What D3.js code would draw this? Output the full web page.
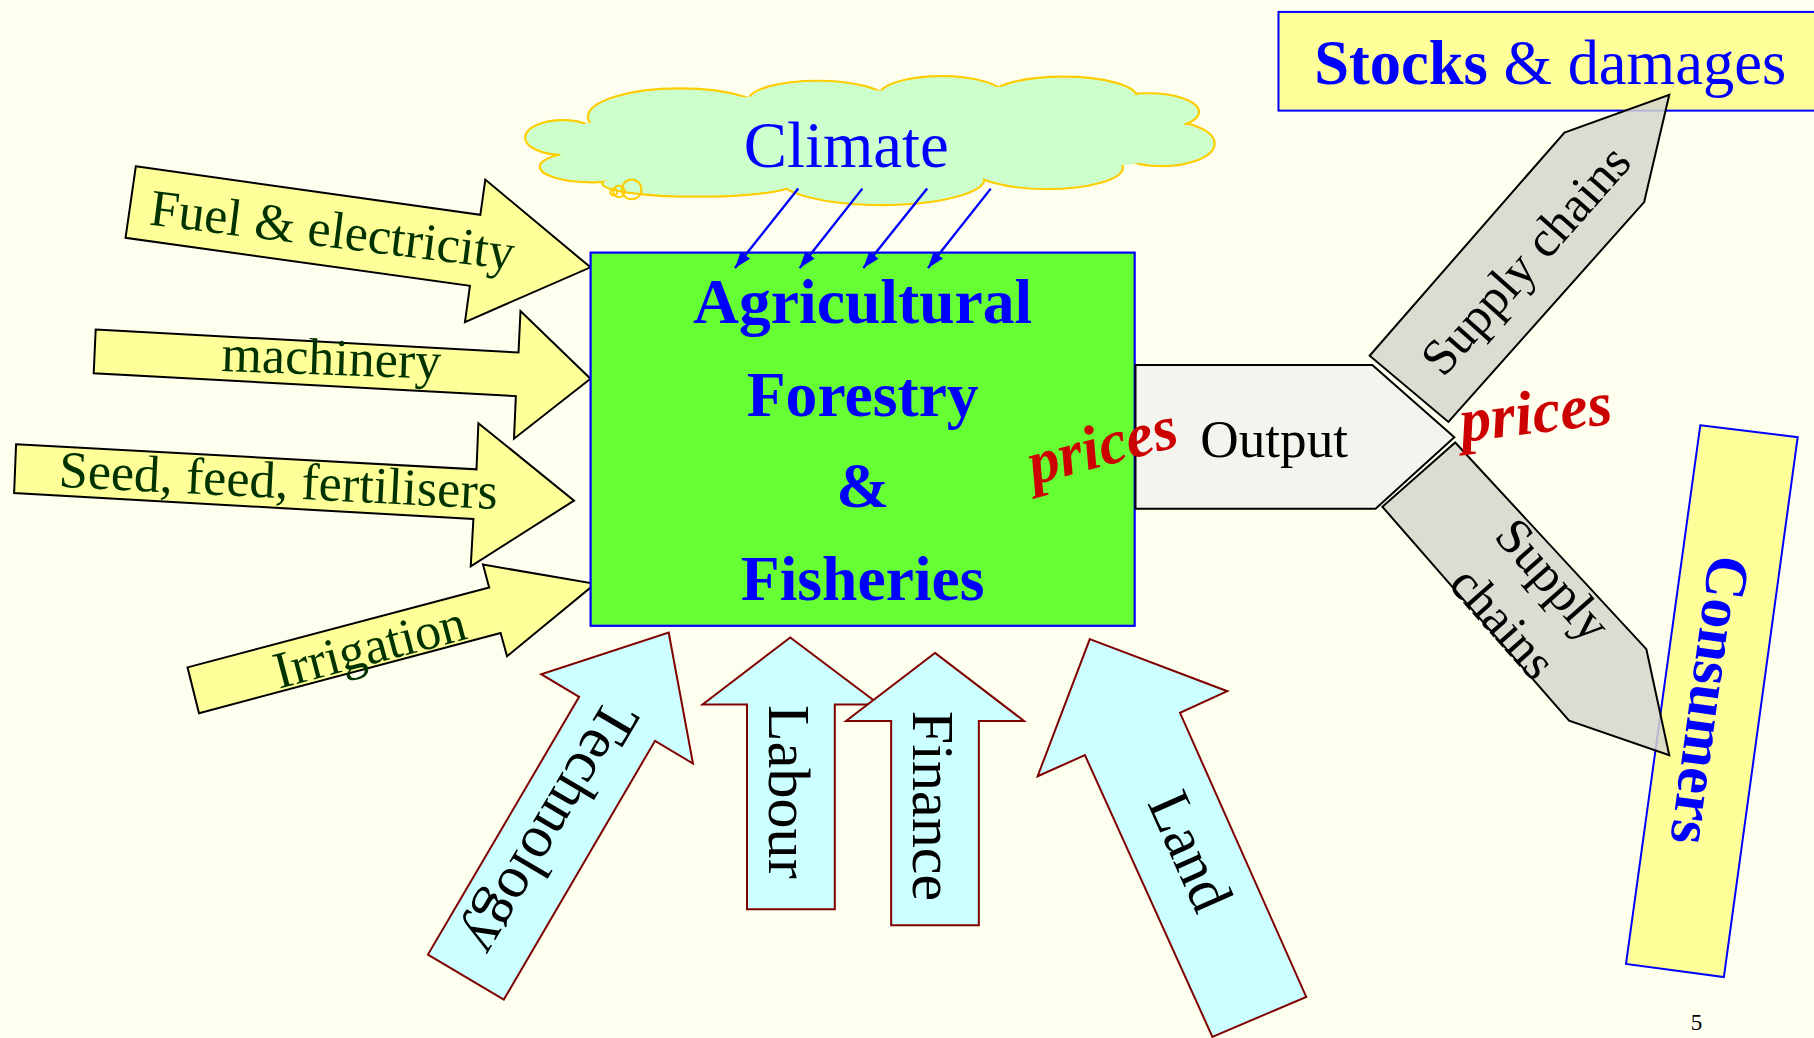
<!DOCTYPE html>
<html>
<head>
<meta charset="utf-8">
<script src="https://cdn.jsdelivr.net/npm/d3@7"></script>
<style>
  html, body { margin: 0; padding: 0; background: #FFFFF0; overflow: hidden; }
  svg { display: block; font-family: "Liberation Serif", "Times New Roman", serif; }
</style>
</head>
<body>
<div id="chart"></div>
<script>
// labels (text only)
const inputLabels = ["Fuel & electricity", "machinery", "Seed, feed, fertilisers", "Irrigation"];
const factorLabels = ["Technology", "Labour", "Finance", "Land"];
const sectorLines = ["Agricultural", "Forestry", "&", "Fisheries"];
const climateLabel = "Climate";
const outputLabel = "Output";
const priceLabel = "prices";
const supplyUpLabel = ["Supply chains"];
const supplyDownLabel = ["Supply", "chains"];
const consumersLabel = "Consumers";
const stocksLabel = ["Stocks", " & damages"];
const pageLabel = "5";

// geometry, in reference units (1568 x 897 frame)
const inputArrows = [
  [[117.4,143.7],[415.2,185.6],[419.5,155.2],[510.4,231],[401.9,278.3],[406.2,247],[108.5,205.5]],
  [[82.7,284.7],[448.2,304.6],[449.9,268.8],[510.4,327.3],[444.3,379.1],[445.9,342.3],[81,322.5]],
  [[13.9,383.9],[411.9,405.6],[413.5,365.7],[496.2,432.6],[406.9,489.4],[409.2,448.5],[12.2,426.1]],
  [[162.1,576.7],[422.8,507.7],[417.5,487.9],[514.4,504.5],[438.3,567.1],[432.7,547],[172,616.3]]
];
// baseline centre + angle
const inputText = [[285.5,213.6,7.1],[286,324,2],[240,430.3,2.9],[323.4,573.4,-14.8]];

const factorArrows = [
  [[578,546.6],[599,659.8],[566.2,640.2],[435.5,863.8],[369.9,824.9],[500.6,602.2],[467.8,582.6]],
  [[683.1,550.9],[760,608.8],[721.6,608.8],[721.6,785.7],[645.7,785.7],[645.7,608.8],[607.3,608.8]],
  [[808.2,564.2],[885.1,623],[846.1,623],[846.1,799.6],[770.3,799.6],[770.3,623],[731.3,623]],
  [[942,552.3],[1060.9,597.3],[1020,616],[1129.1,861.5],[1048,896],[937.8,652.6],[896.9,670.8]]
];
// glyph centre + angle
const factorText = [[477,716,120.5],[681.6,684.3,90],[806.6,696.5,90],[1028.9,735.5,66]];

const sectorBox = [[510.5,218.3],[980.8,540.8]];
const sectorBaselines = [279.4, 359.2, 438.5, 518.4];
const sectorX = 745.7;

const cloudBumps = [
  [486.4,118.8,32.5,15],[512.2,144.1,45.6,13.5],[603.5,158.5,83,11.5],[762.2,154.2,89,23],
  [905.1,144.7,65.5,18.7],[1004.3,124,45.6,19.6],[992.4,96.6,44,16],[919,83.6,63.5,17.3],
  [813.8,82.2,53.6,16.4],[706.7,86.5,59.5,16.7],[587.6,100.9,79.4,24.5]
];
const cloudCore = [
  [750.3,118.2,205,40],[525,125,45,20],[580,140,60,14],[960,115,65,28],[870,110,90,35]
];
const cloudCurls = [[546,163.7,8.5],[535,165.5,5],[530.5,166,3]];
const climateArrows = [
  [[690,163],[635.3,231.7]],[[745.4,163],[691.2,231.7]],
  [[801.4,163],[746.3,231.7]],[[856.4,163],[802.1,231.7]]
];

const outputArrow = [[981.5,315.4],[1186.2,315.4],[1257.1,377.8],[1189,439.6],[981.5,439.6]];
const supplyUp = [[1183.9,307.4],[1352.3,114.5],[1442.9,81.9],[1421.2,174.6],[1252,364.6]];
const supplyDown = [[1257.9,382.4],[1423.1,561],[1442.9,652.6],[1356.3,622.8],[1194.9,437.9]];
const stocksBox = [[1105.1,10.3],[1580,95.6]];
const consumersBox = [[1469.7,367.5],[1553.9,377.8],[1490.1,844.3],[1405.5,833]];

const W = 1814, H = 1038;
const x = d3.scaleLinear().domain([0, 1568]).range([0, W]);
const y = d3.scaleLinear().domain([0, 897]).range([0, H]);
const k = W / 1568;

const svg = d3.select("#chart").append("svg")
  .attr("width", W).attr("height", H);

svg.append("rect").attr("width", W).attr("height", H).attr("fill", "#FFFFF0");

const defs = svg.append("defs");
defs.append("marker")
  .attr("id", "head")
  .attr("viewBox", "0 0 10 10")
  .attr("refX", 10).attr("refY", 5)
  .attr("markerWidth", 7).attr("markerHeight", 7)
  .attr("orient", "auto")
  .append("path").attr("d", "M0,1.5 L10,5 L0,8.5 Z").attr("fill", "#0000FF");

const poly = d3.line().x(d => x(d[0])).y(d => y(d[1])).curve(d3.curveLinearClosed);

function label(g, txt, p, opts) {
  const t = g.append("text")
    .attr("transform", `translate(${x(p[0])},${y(p[1])}) rotate(${p[2] || 0})`)
    .attr("text-anchor", "middle")
    .attr("font-size", opts.size * k)
    .attr("fill", opts.fill || "#000")
    .attr("font-weight", opts.weight || "normal")
    .attr("font-style", opts.style || "normal")
    .text(txt);
  if (opts.dy) t.attr("dy", opts.dy);
  return t;
}

// cloud
const cloud = svg.append("g");
cloud.selectAll("ellipse.o").data(cloudBumps).enter().append("ellipse")
  .attr("cx", d => x(d[0])).attr("cy", d => y(d[1]))
  .attr("rx", d => x(d[2])).attr("ry", d => y(d[3]))
  .attr("fill", "#CCFFCC").attr("stroke", "#FFCC00").attr("stroke-width", 2.2);
cloud.selectAll("ellipse.i").data(cloudBumps).enter().append("ellipse")
  .attr("cx", d => x(d[0])).attr("cy", d => y(d[1]))
  .attr("rx", d => x(d[2]) - 1.6).attr("ry", d => y(d[3]) - 1.6)
  .attr("fill", "#CCFFCC");
cloud.selectAll("ellipse.c").data(cloudCore).enter().append("ellipse")
  .attr("cx", d => x(d[0])).attr("cy", d => y(d[1]))
  .attr("rx", d => x(d[2])).attr("ry", d => y(d[3]))
  .attr("fill", "#CCFFCC");
cloud.selectAll("circle").data(cloudCurls).enter().append("circle")
  .attr("cx", d => x(d[0])).attr("cy", d => y(d[1])).attr("r", d => x(d[2]))
  .attr("fill", "none").attr("stroke", "#FFCC00").attr("stroke-width", 2);
label(cloud, climateLabel, [731.5, 144.7, 0], {size: 56, fill: "#0000FF"});

// input arrows
svg.selectAll("path.in").data(inputArrows).enter().append("path")
  .attr("d", poly).attr("fill", "#FFFF99").attr("stroke", "#000").attr("stroke-width", 2);
inputLabels.forEach((s, i) => label(svg, s, inputText[i], {size: 45, fill: "#003300"}));

// sector box
svg.append("rect")
  .attr("x", x(sectorBox[0][0])).attr("y", y(sectorBox[0][1]))
  .attr("width", x(sectorBox[1][0]) - x(sectorBox[0][0]))
  .attr("height", y(sectorBox[1][1]) - y(sectorBox[0][1]))
  .attr("fill", "#66FF33").attr("stroke", "#0000FF").attr("stroke-width", 2.2);
sectorLines.forEach((s, i) => label(svg, s, [sectorX, sectorBaselines[i], 0],
  {size: 55, fill: "#0000FF", weight: "bold"}));

// climate arrows land on the box
svg.selectAll("line.clim").data(climateArrows).enter().append("line")
  .attr("x1", d => x(d[0][0])).attr("y1", d => y(d[0][1]))
  .attr("x2", d => x(d[1][0])).attr("y2", d => y(d[1][1]))
  .attr("stroke", "#0000FF").attr("stroke-width", 2.4)
  .attr("marker-end", "url(#head)");

// factor arrows
svg.selectAll("path.fac").data(factorArrows).enter().append("path")
  .attr("d", poly).attr("fill", "#CCFFFF").attr("stroke", "#800000").attr("stroke-width", 2);
factorLabels.forEach((s, i) => label(svg, s, factorText[i], {size: 52, dy: "0.33em"}));

// stocks & consumers boxes
svg.append("rect")
  .attr("x", x(stocksBox[0][0])).attr("y", y(stocksBox[0][1]))
  .attr("width", x(stocksBox[1][0]) - x(stocksBox[0][0]))
  .attr("height", y(stocksBox[1][1]) - y(stocksBox[0][1]))
  .attr("fill", "#FFFF99").attr("stroke", "#0000FF").attr("stroke-width", 2);
svg.append("path").attr("d", poly(consumersBox))
  .attr("fill", "#FFFF99").attr("stroke", "#0000FF").attr("stroke-width", 2);

// output and supply arrows
svg.append("path").attr("d", poly(outputArrow))
  .attr("fill", "#F4F4EE").attr("stroke", "#000").attr("stroke-width", 2);
svg.selectAll("path.sup").data([supplyUp, supplyDown]).enter().append("path")
  .attr("d", poly).attr("fill", "#D6D6CC").attr("fill-opacity", 0.85)
  .attr("stroke", "#000").attr("stroke-width", 2);

label(svg, outputLabel, [1101.4, 394.7, 0], {size: 46});
label(svg, supplyUpLabel[0], [1318.9, 224.7, -48.5], {size: 44, dy: "0.33em"});
label(svg, supplyDownLabel[0], [1342.5, 501, 48.5], {size: 44, dy: "0.33em"});
label(svg, supplyDownLabel[1], [1299.2, 538.1, 48.5], {size: 44, dy: "0.33em"});

const st = svg.append("text")
  .attr("x", x(1340)).attr("y", y(72.7))
  .attr("text-anchor", "middle").attr("font-size", 54 * k).attr("fill", "#0000FF");
st.append("tspan").attr("font-weight", "bold").text(stocksLabel[0]);
st.append("tspan").text(stocksLabel[1]);

label(svg, consumersLabel, [1478, 605, 97.85], {size: 52, fill: "#0000FF", weight: "bold", dy: "0.33em"});

label(svg, priceLabel, [957, 402, -15], {size: 54, fill: "#CC0000", weight: "bold", style: "italic"});
label(svg, priceLabel, [1329.5, 374, -7], {size: 54, fill: "#CC0000", weight: "bold", style: "italic"});

label(svg, pageLabel, [1466.5, 890, 0], {size: 20});
</script>
</body>
</html>
